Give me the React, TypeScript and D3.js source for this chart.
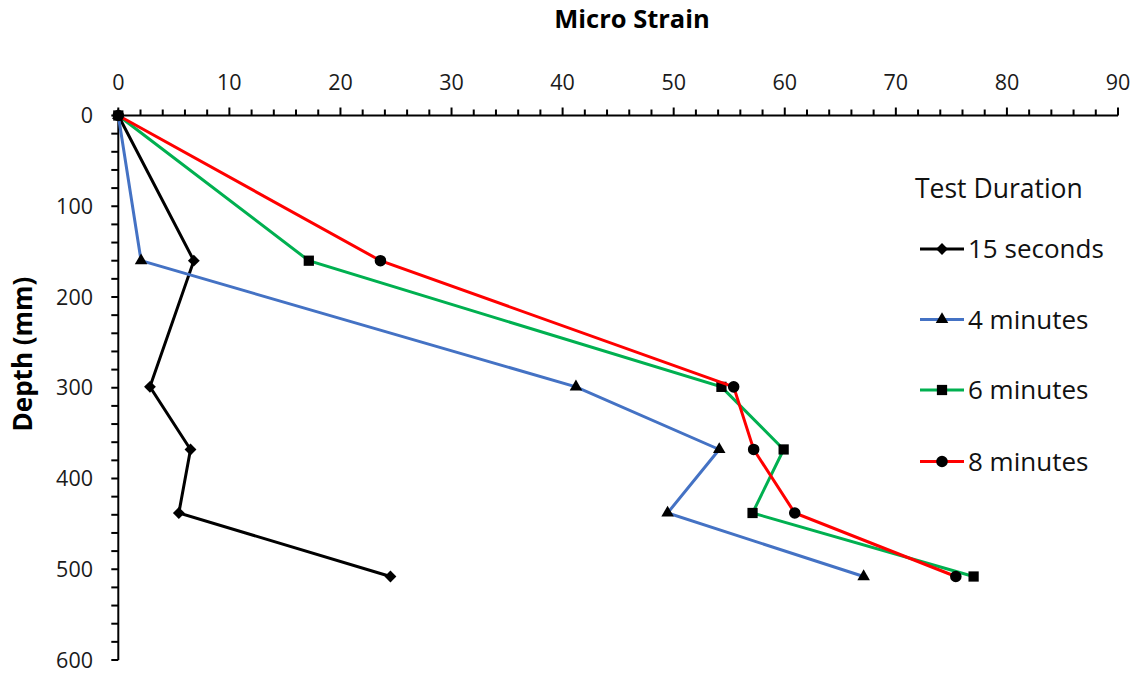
import React from "react";
import * as d3 from "d3";

// depth below surface (mm) for every reading
const depths = [0, 160, 299, 368, 438, 508];

// micro strain per test duration
const strain15s = [0, 6.8, 2.85, 6.5, 5.45, 24.5];
const strain4min = [0, 2.05, 41.2, 54.1, 49.45, 67.1];
const strain6min = [0, 17.15, 54.3, 59.9, 57.1, 77.0];
const strain8min = [0, 23.6, 55.4, 57.2, 60.9, 75.4];

const seriesNames = ["15 seconds", "4 minutes", "6 minutes", "8 minutes"];
const xTicks = [0, 10, 20, 30, 40, 50, 60, 70, 80, 90];
const yTicks = [0, 100, 200, 300, 400, 500, 600];

const W = 1135;
const H = 673;
const FONT = "'Open Sans', 'DejaVu Sans', sans-serif";

const series = [
  { name: seriesNames[0], values: strain15s, color: "#000000", shape: "diamond" },
  { name: seriesNames[1], values: strain4min, color: "#4472C4", shape: "triangle" },
  { name: seriesNames[2], values: strain6min, color: "#00B050", shape: "square" },
  { name: seriesNames[3], values: strain8min, color: "#FF0000", shape: "circle" },
];

const markerPath = (shape: string) => {
  if (shape === "diamond") return d3.symbol(d3.symbolSquare, 70)() as string;
  if (shape === "triangle") return d3.symbol(d3.symbolTriangle, 68)() as string;
  if (shape === "square") return d3.symbol(d3.symbolSquare, 105)() as string;
  return d3.symbol(d3.symbolCircle, 105)() as string;
};

const Marker = ({ shape, x, y }: { shape: string; x: number; y: number }) => (
  <path
    d={markerPath(shape)}
    fill="#000"
    transform={`translate(${x},${y})${shape === "diamond" ? " rotate(45)" : ""}`}
  />
);

export default function App() {
  const x = d3.scaleLinear().domain([0, 90]).range([118.3, 1118]);
  const y = d3.scaleLinear().domain([0, 600]).range([115.5, 660]);

  const line = d3
    .line<[number, number]>()
    .x((d) => x(d[0]))
    .y((d) => y(d[1]));

  const xMinor = d3.range(0, 91, 2);
  const yMinor = d3.range(0, 601, 20);

  const legendX = 920;
  const legendY = [249, 319.5, 390, 461.5];

  return (
    <svg
      width={W}
      height={H}
      style={{ position: "absolute", left: 0, top: 0, background: "#fff" }}
      fontFamily={FONT}
    >
      <rect width={W} height={H} fill="#fff" />

      {/* title */}
      <text x={632} y={28} textAnchor="middle" fontSize={25.5} fontWeight="bold" fill="#000">
        Micro Strain
      </text>

      {/* y label */}
      <text
        transform={`translate(32,354) rotate(-90)`}
        textAnchor="middle"
        fontSize={26}
        fontWeight="bold"
        fill="#000"
      >
        Depth (mm)
      </text>

      {/* x axis (top) */}
      <g stroke="#000" strokeWidth={2}>
        <line x1={x(0)} x2={x(90)} y1={y(0)} y2={y(0)} />
        {xMinor.map((t) => (
          <line key={t} x1={x(t)} x2={x(t)} y1={y(0)} y2={y(0) - (t % 10 === 0 ? 8 : 6)} />
        ))}
      </g>
      {xTicks.map((t) => (
        <text key={t} x={x(t)} y={90} textAnchor="middle" fontSize={21.5} fill="#1a1a1a">
          {t}
        </text>
      ))}

      {/* y axis */}
      <g stroke="#000" strokeWidth={2}>
        <line x1={x(0)} x2={x(0)} y1={y(0)} y2={y(600)} />
        {yMinor.map((t) => (
          <line key={t} x1={x(0)} x2={x(0) - 7} y1={y(t)} y2={y(t)} />
        ))}
      </g>
      {yTicks.map((t) => (
        <text key={t} x={93} y={y(t) + 7.5} textAnchor="end" fontSize={21.5} fill="#1a1a1a">
          {t}
        </text>
      ))}

      {/* series */}
      {series.map((s) => {
        const pts = s.values.map((v, i) => [v, depths[i]] as [number, number]);
        return (
          <g key={s.name}>
            <path d={line(pts) as string} fill="none" stroke={s.color} strokeWidth={3} />
            {pts.map((p, i) => (
              <Marker key={i} shape={s.shape} x={x(p[0])} y={y(p[1])} />
            ))}
          </g>
        );
      })}

      {/* legend */}
      <text x={915} y={198} fontSize={26.5} fill="#111">
        Test Duration
      </text>
      {series.map((s, i) => (
        <g key={s.name}>
          <line
            x1={legendX}
            x2={legendX + 44}
            y1={legendY[i]}
            y2={legendY[i]}
            stroke={s.color}
            strokeWidth={3}
          />
          <Marker shape={s.shape} x={legendX + 22} y={legendY[i]} />
          <text x={968} y={legendY[i] + 9} fontSize={26} fill="#111">
            {s.name}
          </text>
        </g>
      ))}
    </svg>
  );
}
